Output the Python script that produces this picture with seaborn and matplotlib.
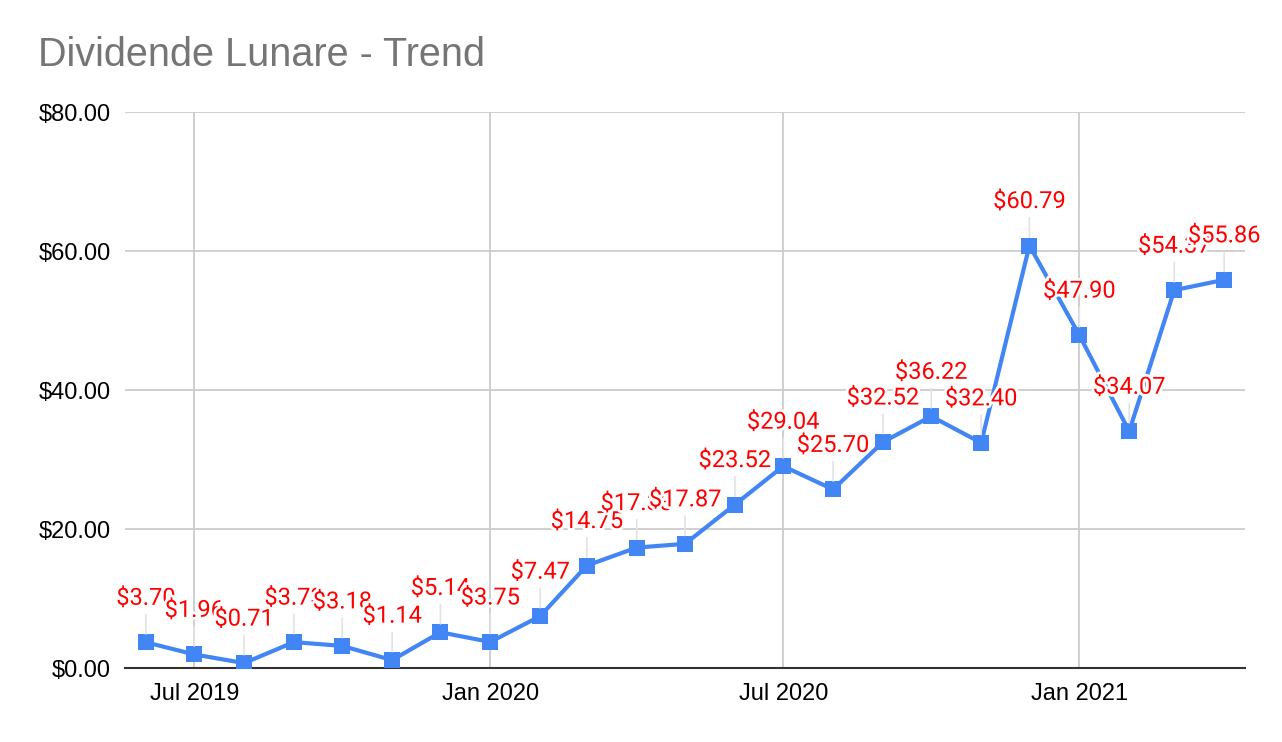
import pandas as pd
import matplotlib.pyplot as plt
import matplotlib.dates as mdates
import matplotlib.patheffects as pe
import matplotlib.ticker as mticker
import seaborn as sns

# Monthly dividend values, Jun 2019 .. Apr 2021
months = pd.date_range("2019-06-01", "2021-04-01", freq="MS")
dividends = [3.70, 1.96, 0.71, 3.73, 3.18, 1.14, 5.14, 3.75, 7.47, 14.75,
             17.33, 17.87, 23.52, 29.04, 25.70, 32.52, 36.22, 32.40, 60.79,
             47.90, 34.07, 54.37, 55.86]
y_ticks = [0, 20, 40, 60, 80]
x_ticks = ["2019-07-01", "2020-01-01", "2020-07-01", "2021-01-01"]

df = pd.DataFrame({"month": months, "dividend": dividends})

sns.set_theme(style="white")
plt.rcParams["font.family"] = ["Liberation Sans", "DejaVu Sans"]

fig = plt.figure(figsize=(12.82, 7.42), dpi=100)
ax = fig.add_axes([0.0975, 0.0997, 0.8737, 0.7493])

sns.lineplot(data=df, x="month", y="dividend", ax=ax, color="#4285F4",
             linewidth=3, marker="s", markersize=12, markeredgewidth=0,
             zorder=3)

# data labels with white halo and light leader lines
for m, v in zip(df["month"], df["dividend"]):
    ax.annotate(f"${v:.2f}", xy=(m, v), xytext=(0, 44), textcoords="offset pixels",
                ha="center", va="center", color="red", fontsize=17,
                family=["Roboto", "DejaVu Sans"], zorder=4,
                path_effects=[pe.withStroke(linewidth=4, foreground="white")],
                arrowprops=dict(arrowstyle="-", color="#e3e3e3", lw=1.2,
                                shrinkA=1, shrinkB=6))

ax.set_xlim(pd.Timestamp("2019-05-19"), pd.Timestamp("2021-04-14"))
ax.set_ylim(0, 80)
ax.set_yticks(y_ticks)
ax.yaxis.set_major_formatter(mticker.FuncFormatter(lambda v, _: f"${v:.2f}"))
ax.set_xticks(pd.to_datetime(x_ticks))
ax.xaxis.set_major_formatter(mdates.DateFormatter("%b %Y"))

ax.grid(True, color="#cccccc", linewidth=1.3, zorder=0)
ax.set_axisbelow(True)
for side in ["top", "right", "left"]:
    ax.spines[side].set_visible(False)
ax.spines["bottom"].set_color("#333333")
ax.spines["bottom"].set_linewidth(1.5)
ax.tick_params(axis="both", length=0, labelsize=17, colors="black")
ax.tick_params(axis="y", pad=10)
ax.tick_params(axis="x", pad=11)
ax.set_xlabel("")
ax.set_ylabel("")

fig.text(0.0296, 0.926, "Dividende Lunare - Trend", fontsize=28.5,
         color="#757575", ha="left", va="center")

fig.savefig("out.png", dpi=100)
